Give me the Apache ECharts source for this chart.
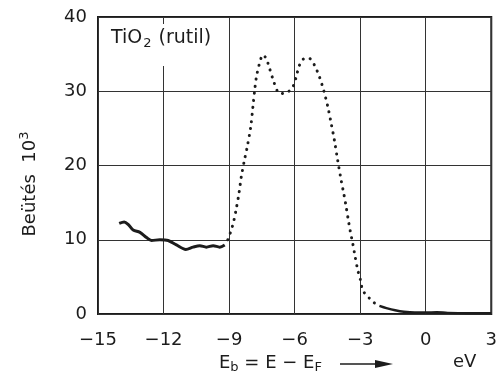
<!DOCTYPE html>
<html>
<head>
<meta charset="utf-8">
<script src="https://cdn.jsdelivr.net/npm/echarts@6/dist/echarts.min.js"></script>
<style>
  html, body { margin: 0; padding: 0; background: #fff; }
  #chart { width: 500px; height: 385px; }
</style>
</head>
<body>
<div id="chart"></div>
<script>
// low-energy tail, solid
const solidAX = [-14.03, -13.8, -13.6, -13.39, -13.08, -12.78, -12.55, -12.17, -11.79, -11.41, -10.98, -10.65, -10.34, -10.04, -9.73, -9.43, -9.2];
const solidAY = [12.2, 12.4, 12.0, 11.3, 11.0, 10.3, 9.9, 10.0, 9.9, 9.3, 8.7, 9.0, 9.2, 9.0, 9.2, 9.0, 9.3];

// valence band, dotted
const dotX = [-9.06, -8.9, -8.78, -8.67, -8.55, -8.44, -8.3, -8.17, -8.01, -7.91, -7.83, -7.75, -7.63, -7.45, -7.3, -7.15, -7.0, -6.77, -6.61, -6.31, -6.08, -5.93, -5.78, -5.55, -5.32, -5.09, -4.86, -4.67, -4.48, -4.33, -4.18, -4.03, -3.87, -3.75, -3.64, -3.54, -3.45, -3.34, -3.23, -3.11, -2.99, -2.89, -2.73, -2.5, -2.27, -2.12];
const dotY = [10.0, 11.3, 12.6, 14.2, 16.2, 18.5, 20.7, 22.5, 25.2, 27.9, 30.1, 31.9, 33.5, 34.9, 34.4, 33.1, 31.7, 29.9, 29.7, 29.9, 30.6, 31.9, 33.5, 34.4, 34.4, 33.5, 31.9, 30.1, 27.9, 25.7, 23.4, 20.7, 18.0, 16.2, 14.4, 12.6, 11.1, 9.5, 7.7, 5.9, 4.6, 3.2, 2.6, 1.9, 1.3, 1.1];

// gap region, solid
const solidBX = [-2.12, -1.8, -1.4, -1.0, -0.5, 0, 0.5, 1, 2, 3];
const solidBY = [1.1, 0.8, 0.5, 0.3, 0.2, 0.2, 0.25, 0.15, 0.1, 0.1];

const xTicks = [-15, -12, -9, -6, -3, 0, 3];
const yTicks = [0, 10, 20, 30, 40];

const pairs = (xs, ys) => xs.map((x, i) => [x, ys[i]]);
const ink = "#1c1c1c";
const font = "DejaVu Sans";

const chart = echarts.init(document.getElementById("chart"));

chart.setOption({
  backgroundColor: "#fff",
  animation: false,
  grid: {
    left: 98, right: 8, top: 17, bottom: 71,
    show: true, borderColor: ink, borderWidth: 2,
  },
  xAxis: {
    type: "value",
    min: xTicks[0], max: xTicks[xTicks.length - 1], interval: 3,
    axisLine: { show: false },
    axisTick: { show: false },
    splitLine: { lineStyle: { color: "#333", width: 1 } },
    axisLabel: {
      margin: 17, color: ink, fontFamily: font, fontSize: 18,
      formatter: (v) => String(v).replace("-", "\u2212"),
    },
  },
  yAxis: {
    type: "value",
    min: yTicks[0], max: yTicks[yTicks.length - 1], interval: 10,
    axisLine: { show: false },
    axisTick: { show: false },
    splitLine: { lineStyle: { color: "#333", width: 1 } },
    axisLabel: { margin: 11, color: ink, fontFamily: font, fontSize: 18 },
  },
  graphic: [
    {
      type: "rect", z: 5,
      shape: { x: 104, y: 24, width: 122, height: 42 },
      style: { fill: "#fff" },
    },
    {
      type: "text", z: 6, left: 111, top: 29,
      style: {
        text: "TiO{sub|2} (rutil)",
        font: "19px " + font, fill: ink,
        rich: { sub: { fontSize: 13, fontFamily: font, fill: ink, padding: [11, 1, 0, 1] } },
      },
    },
    {
      type: "text", z: 6, x: 30, y: 184, rotation: Math.PI / 2,
      style: {
        text: "Beütés  10{sup|3}",
        font: "18px " + font, fill: ink, align: "center", verticalAlign: "middle",
        rich: { sup: { fontSize: 13, fontFamily: font, fill: ink, padding: [0, 0, 11, 0] } },
      },
    },
    {
      type: "text", z: 6, left: 219, top: 354,
      style: {
        text: "E{sub|b} = E \u2212 E{sub|F}",
        font: "18px " + font, fill: ink,
        rich: { sub: { fontSize: 13, fontFamily: font, fill: ink, padding: [9, 0, 0, 0] } },
      },
    },
    {
      type: "line", z: 6,
      shape: { x1: 340, y1: 364, x2: 380, y2: 364 },
      style: { stroke: ink, lineWidth: 1.5 },
    },
    {
      type: "polygon", z: 6,
      shape: { points: [[375, 360], [393, 364], [375, 368]] },
      style: { fill: ink },
    },
    {
      type: "text", z: 6, left: 453, top: 353,
      style: { text: "eV", font: "18px " + font, fill: ink },
    },
  ],
  series: [
    {
      type: "line", data: pairs(solidAX, solidAY), smooth: 0.3, symbol: "none",
      lineStyle: { color: ink, width: 3 },
    },
    {
      type: "line", data: pairs(dotX, dotY), smooth: 0.3, symbol: "none",
      lineStyle: { color: ink, width: 3, type: [0.1, 7], cap: "round" },
    },
    {
      type: "line", data: pairs(solidBX, solidBY), smooth: 0.3, symbol: "none",
      lineStyle: { color: ink, width: 2.4 },
    },
  ],
});
</script>
</body>
</html>
